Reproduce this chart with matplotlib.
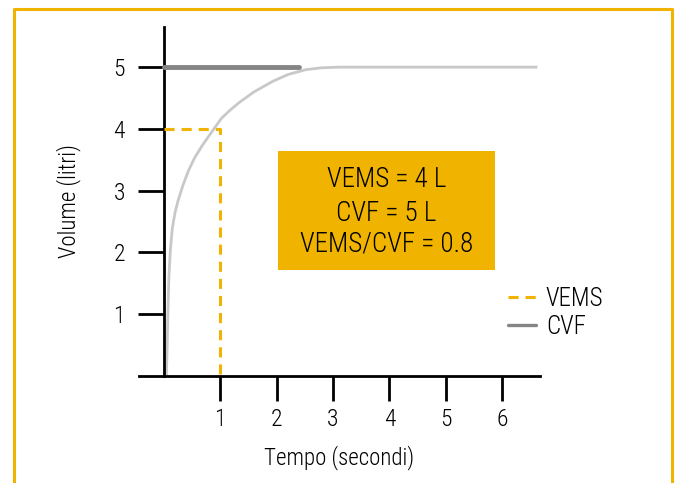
import matplotlib
matplotlib.use("Agg")
import matplotlib.pyplot as plt
from matplotlib.patches import Rectangle
from matplotlib.lines import Line2D

plt.rcParams["font.family"] = ["Roboto Condensed", "Archivo Narrow", "DejaVu Sans"]
plt.rcParams["font.weight"] = "light"
plt.rcParams["axes.labelweight"] = "light"

# curve of expired volume
t_curve = [0.045, 0.06, 0.07, 0.09, 0.115, 0.15, 0.2, 0.25, 0.34, 0.44, 0.545, 0.68,
           0.81, 1.02, 1.17, 1.34, 1.6, 1.93, 2.2, 2.52, 2.8, 3.11, 4.0, 5.0, 6.6]
v_curve = [0.0, 0.5, 0.94, 1.6, 2.02, 2.39, 2.65, 2.83, 3.09, 3.33, 3.53, 3.73,
           3.9, 4.17, 4.3, 4.43, 4.6, 4.77, 4.88, 4.96, 4.99, 5.0, 5.0, 5.0, 5.0]

vems = 4
cvf = 5
t_vems = 1
t_cvf_end = 2.4

x_ticks = [1, 2, 3, 4, 5, 6]
y_ticks = [1, 2, 3, 4, 5]
box_lines = ["VEMS = 4 L", "CVF = 5 L", "VEMS/CVF = 0.8"]

gold = "#f0b400"

fig = plt.figure(figsize=(6.77, 4.83), dpi=100)
W, H = 677, 483
ax = fig.add_axes([139 / W, (H - 376) / H, (540 - 139) / W, (376 - 27) / H])

ax.set_xlim(-0.44, 6.67)
ax.set_ylim(0, 5.65)

# yellow frame around the figure (open at the bottom)
fig.add_artist(Line2D([14 / W, 14 / W, 672 / W, 672 / W],
                      [0, 1 - 9 / H, 1 - 9 / H, 0],
                      transform=fig.transFigure, color=gold, lw=2.2))

ax.plot(t_curve, v_curve, color="#c8c8c8", lw=2, zorder=2)
ax.plot([0, t_vems, t_vems], [vems, vems, 0], color=gold, lw=2.2,
        dashes=(3.3, 2.3), zorder=3, label="VEMS")
ax.plot([0, t_cvf_end], [cvf, cvf], color="#858585", lw=3.5,
        solid_capstyle="round", zorder=3, label="CVF")

# box with the ratio
ax.add_patch(Rectangle((2.03, 1.71), 3.84, 1.93, facecolor=gold,
                       edgecolor="none", zorder=1))
cy = [3.18, 2.63, 2.14]
for s, y in zip(box_lines, cy):
    ax.text(3.95, y, s, ha="center", va="center", fontsize=19.5, color="black")

for side in ["top", "right"]:
    ax.spines[side].set_visible(False)
ax.spines["left"].set_position(("data", 0))
ax.spines["left"].set_linewidth(2)
ax.spines["bottom"].set_linewidth(2)

ax.set_xticks(x_ticks)
ax.set_yticks(y_ticks)
ax.tick_params(axis="x", direction="out", length=18, width=2, pad=5, labelsize=17)
ax.tick_params(axis="y", direction="out", length=19, width=2, pad=9, labelsize=17)

ax.set_xlabel("Tempo (secondi)", fontsize=16.5, labelpad=10)
ax.set_ylabel("Volume (litri)", fontsize=16.5)
ax.yaxis.set_label_coords(-0.145, 0.5)

leg = ax.legend(loc="upper left", bbox_to_anchor=(0.865, 0.32), frameon=False,
                fontsize=18, handlelength=1.1, handletextpad=0.4, labelspacing=0.15)
leg.get_lines()[1].set_linewidth(2.4)

fig.savefig("out.png", dpi=100)
